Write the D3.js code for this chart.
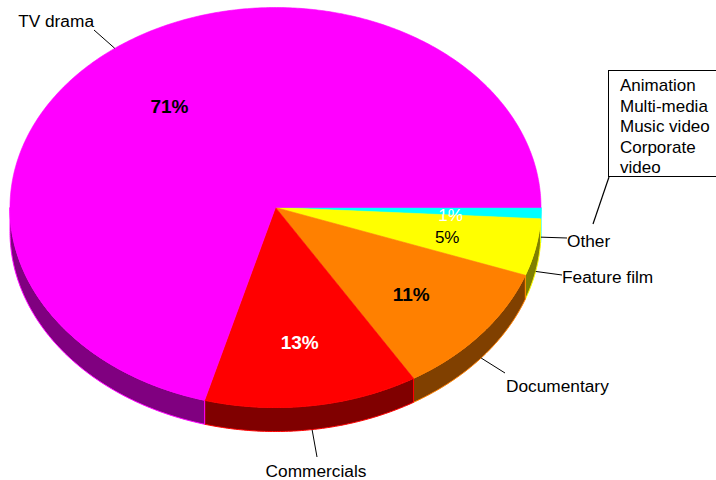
<!DOCTYPE html>
<html>
<head>
<meta charset="utf-8">
<script src="https://cdn.jsdelivr.net/npm/d3@7/dist/d3.min.js"></script>
<style>
  html, body { margin: 0; padding: 0; background: #fff; }
  svg { display: block; font-family: Arial, "Liberation Sans", sans-serif; }
</style>
</head>
<body>
<svg id="chart" width="716" height="480"></svg>
<script>
// Production share by genre (percent)
const categories = ["Other", "Feature film", "Documentary", "Commercials", "TV drama"];
const values = [0.9, 4.6, 10.8, 13.0, 70.7];
const colors = ["#00ffff", "#ffff00", "#ff8000", "#ff0000", "#ff00ff"];
const valueLabelColors = ["#ffffff", "#000000", "#000000", "#ffffff", "#000000"];
const valueLabelBold = [false, false, true, true, true];
const otherItems = ["Animation", "Multi-media", "Music video", "Corporate", "video"];

// where each leader line ends and how its label sits there
const labelEnds = [[567, 238], [562, 275], [505, 373], [317, 457], [94, 30]];
const labelOffsets = [[0, 9, "start"], [0, 8, "start"], [1, 19, "start"], [-1, 20, "middle"], [0, -3, "end"]];

const svg = d3.select("#chart");
const cx = 275.5, cy = 207.5, rx = 265.5, ry = 200, depth = 24;

const xs = d3.scaleLinear().domain([-1, 1]).range([cx - rx, cx + rx]);
const ys = d3.scaleLinear().domain([-1, 1]).range([cy - ry, cy + ry]);

// d3.pie measures from 12 o'clock; start the first slice at 3 o'clock
const pie = d3.pie().sort(null).value(d => d.value)
  .startAngle(Math.PI / 2).endAngle(Math.PI / 2 + 2 * Math.PI);
const data = categories.map((c, i) => ({ name: c, value: values[i], color: colors[i], i }));
const arcs = pie(data).map(a => ({ ...a, t0: a.startAngle - Math.PI / 2, t1: a.endAngle - Math.PI / 2 }));

const pt = (t, dy = 0) => [xs(Math.cos(t)), ys(Math.sin(t)) + dy];
function arcPoints(t0, t1, dy = 0) {
  const n = Math.max(2, Math.ceil(Math.abs(t1 - t0) / 0.01));
  return d3.range(n + 1).map(k => pt(t0 + (t1 - t0) * k / n, dy));
}
const line = d3.line();

const half = c => { const r = d3.rgb(c); return d3.rgb(r.r * 0.5, r.g * 0.5, r.b * 0.5).formatHex(); };

// side walls: only the front half of the disc shows its depth
const sides = svg.append("g");
arcs.forEach(a => {
  const s = Math.max(a.t0, 0), e = Math.min(a.t1, Math.PI);
  if (e <= s) return;
  const pts = arcPoints(s, e).concat(arcPoints(e, s, depth));
  sides.append("path")
    .attr("d", line(pts) + "Z")
    .attr("fill", half(a.data.color))
    .attr("stroke", a.data.color)
    .attr("stroke-width", 1)
    .attr("stroke-linejoin", "round");
});

// top faces
const tops = svg.append("g");
arcs.forEach(a => {
  const pts = [[cx, cy]].concat(arcPoints(a.t0, a.t1));
  tops.append("path")
    .attr("d", line(pts) + "Z")
    .attr("fill", a.data.color)
    .attr("stroke", a.data.color)
    .attr("stroke-width", 0.6);
});

// percentage labels inside the slices
const fmt = v => Math.round(v) + "%";
arcs.forEach(a => {
  const m = (a.t0 + a.t1) / 2;
  const bold = valueLabelBold[a.data.i];
  svg.append("text")
    .attr("x", xs(0.66 * Math.cos(m)))
    .attr("y", ys(0.66 * Math.sin(m)) + 4)
    .attr("text-anchor", "middle")
    .attr("dominant-baseline", "central")
    .attr("font-size", bold ? 19 : 17)
    .attr("font-weight", bold ? "bold" : "normal")
    .attr("fill", valueLabelColors[a.data.i])
    .text(fmt(a.value));
});

// category labels with leader lines
arcs.forEach(a => {
  const m = (a.t0 + a.t1) / 2;
  const front = Math.sin(m) > 0;
  const start = pt(m, front ? depth : 0);
  const end = labelEnds[a.data.i];
  const off = labelOffsets[a.data.i];
  svg.append("line")
    .attr("x1", start[0]).attr("y1", start[1])
    .attr("x2", end[0]).attr("y2", end[1])
    .attr("stroke", "#000").attr("stroke-width", 1);
  svg.append("text")
    .attr("x", end[0] + off[0])
    .attr("y", end[1] + off[1])
    .attr("text-anchor", off[2])
    .attr("font-size", 17.3)
    .attr("fill", "#000")
    .text(a.data.name);
});

// callout box listing what "Other" includes
const box = svg.append("g");
box.append("rect")
  .attr("x", 608.5).attr("y", 70.5).attr("width", 200).attr("height", 106)
  .attr("fill", "#fff").attr("stroke", "#000").attr("stroke-width", 1);
box.append("line")
  .attr("x1", 609).attr("y1", 177).attr("x2", 593).attr("y2", 224)
  .attr("stroke", "#000").attr("stroke-width", 1.2);
box.selectAll("text.item").data(otherItems).join("text")
  .attr("class", "item")
  .attr("x", 620)
  .attr("y", (d, i) => 91 + i * 20.5)
  .attr("font-size", 17)
  .attr("fill", "#000")
  .text(d => d);
</script>
</body>
</html>
